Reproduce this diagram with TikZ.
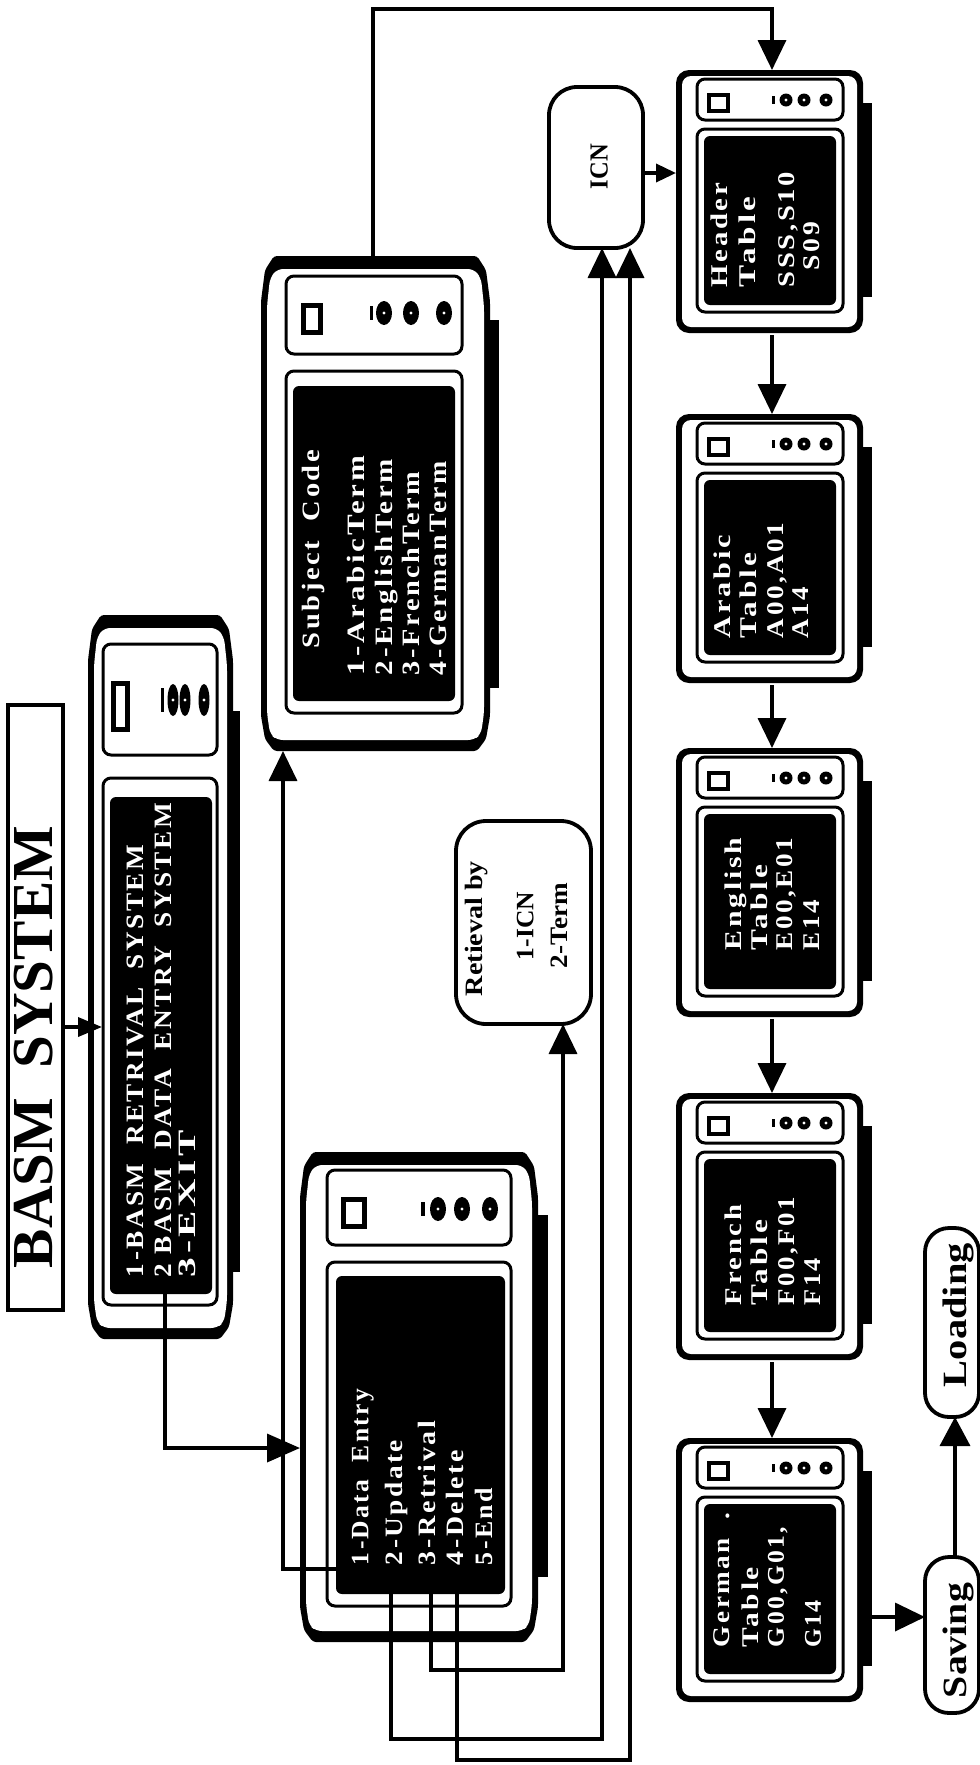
\documentclass[tikz,border=0pt]{standalone}
\usepackage{fontspec}
\usepackage{graphicx}
\setmainfont{Liberation Serif}
\newfontfamily\spaced[LetterSpace=9]{Liberation Serif}
\usetikzlibrary{arrows.meta}
\newcounter{tx}
\tikzset{
  conn/.style={line width=3.6pt,draw=black},
  bighead/.style={conn,-{Triangle[length=30pt,width=28pt]}},
  midhead/.style={conn,-{Triangle[length=24pt,width=19pt]}},
  anchorbox/.style={inner sep=0pt,outer sep=0pt},
  flowbox/.style={draw=black,line width=3.8pt,fill=white,rounded corners=24pt,inner sep=0pt,outer sep=0pt},
  labelnode/.style={rotate=90,anchor=base west,inner sep=0pt,outer sep=0pt},
}
% text line: [colour]{centre x}{start y}{end y}{font size}{text}
\newcommand\lab[6][white]{%
  \stepcounter{tx}%
  \node[labelnode,text=#1] (tx\arabic{tx}) at ({#2+0.33*#5},#3)
    {\resizebox{\dimexpr #3pt-#4pt\relax}{\height}{\spaced\fontsize{#5}{#5}\selectfont\bfseries #6}};}
\newcommand\plain{\rmfamily\bfseries}
% parts
\newcommand\dropshadow[3]{\fill[black] (#1,#2) rectangle ({#1+10},#3);}
\newcommand\panelbox[4]{\draw[line width=3pt,fill=white,rounded corners=8pt] (#1,#2) rectangle (#3,#4);}
\newcommand\screenbox[8]{%
  \draw[line width=3pt,fill=white,rounded corners=8pt] (#1,#2) rectangle (#3,#4);
  \fill[black,rounded corners=6pt] (#5,#6) rectangle (#7,#8);}
\newcommand\squarebox[5]{\draw[line width=#5pt,fill=white] (#1,#2) rectangle (#3,#4);}
\newcommand\knob[4]{%
  \fill[black] (#1,#2) ellipse [x radius=#3,y radius=#4];
  \fill[white] (#1,#2) circle [radius=1.6];}
\newcommand\holder[5]{%
  \node[anchorbox,minimum width={#4-#2},minimum height={#5-#3}] (#1) at ({(#2+#4)/2},{(#3+#5)/2}) {};}
\newcommand\smalldev[3]{%
  \pgfmathsetmacro\Tp{#2}\pgfmathsetmacro\Bt{#3}%
  \dropshadow{862}{\Tp+33}{\Bt-36}
  \fill[black,rounded corners=13pt] (676,\Tp) rectangle (863,\Bt);
  \fill[white,rounded corners=9pt] (682,\Tp+6) rectangle (857,\Bt-6);
  \panelbox{697}{\Tp+9}{843}{\Tp+50}
  \screenbox{697}{\Tp+59}{843}{\Bt-21}{704}{\Tp+66}{836}{\Bt-28}
  \squarebox{709}{\Tp+25}{728}{\Tp+41}{3.5}
  \fill[black] (771.5,\Tp+26) rectangle (775,\Tp+34);
  \knob{786}{\Tp+30}{6.5}{6.5}
  \knob{804}{\Tp+30}{6.5}{6.5}
  \knob{826}{\Tp+30}{6.5}{6.5}
  \holder{#1}{676}{#2}{863}{#3}}
\newcommand\bigbody[4]{%
  \fill[black,rounded corners=3pt] ({#1+13},#2) -- ({#3-13},#2) -- ({#3-4},{#2+14}) -- (#3,{#2+45}) -- (#3,{#4-35})
     -- ({#3-4},{#4-12}) -- ({#3-13},#4) -- ({#1+13},#4) -- ({#1+4},{#4-12}) -- (#1,{#4-35}) -- (#1,{#2+45}) -- ({#1+4},{#2+14}) -- cycle;
  \fill[white,rounded corners=6pt] ({#1+16},{#2+13}) -- ({#3-16},{#2+13}) -- ({#3-9},{#2+22}) -- ({#3-6},{#2+50}) -- ({#3-6},{#4-38})
     -- ({#3-9},{#4-17}) -- ({#3-16},{#4-11}) -- ({#1+16},{#4-11}) -- ({#1+9},{#4-17}) -- ({#1+6},{#4-38}) -- ({#1+6},{#2+50}) -- ({#1+9},{#2+22}) -- cycle;}
\begin{document}
\begin{tikzpicture}[x=1pt,y=-1pt,line join=miter]
\useasboundingbox (0,0) rectangle (980,1765);
\fill[white] (0,0) rectangle (980,1765);

% title
\node[draw=black,line width=3.5pt,fill=white,inner sep=0pt,outer sep=0pt,minimum width=55pt,minimum height=605pt] (title) at (35.5,1007.5) {};
\lab[black]{33}{1268}{826}{58}{\plain BASM\ \ SYSTEM}

% BASM device
\dropshadow{230}{711}{1272}
\bigbody{88}{615}{233}{1339}
\panelbox{103}{644}{217}{755}
\screenbox{103}{778}{217}{1305}{110}{797}{212}{1294}
\squarebox{113}{683}{127}{729}{5}
\fill[black] (161,688) rectangle (164,712);
\knob{173}{700}{5.5}{16}
\knob{185}{700}{5.5}{16}
\knob{204}{700}{5.5}{16}
\holder{basm}{88}{615}{233}{1339}
\lab{135}{1277}{845}{25}{1-BASM\ \ RETRIVAL\ \ SYSTEM}
\lab{163}{1277}{803}{25}{2 BASM\ \ DATA\ \ ENTRY\ \ SYSTEM}
\lab{187}{1277}{1130}{25}{3-EXIT}

% Data entry device
\dropshadow{538}{1215}{1577}
\bigbody{300}{1152}{538}{1642}
\panelbox{327}{1170}{511}{1245}
\screenbox{327}{1262}{511}{1606}{336}{1276}{505}{1594}
\squarebox{343}{1199}{364}{1226}{5}
\fill[black] (421,1202) rectangle (425,1216);
\knob{438}{1209}{8}{12}
\knob{462}{1209}{8}{12}
\knob{490}{1209}{8}{12}
\holder{entry}{300}{1152}{538}{1642}
\lab{360}{1565}{1389}{25}{1-Data\ \ Entry}
\lab{394}{1565}{1440}{25}{2-Update}
\lab{427}{1565}{1421}{25}{3-Retrival}
\lab{455}{1565}{1450}{25}{4-Delete}
\lab{484}{1565}{1488}{25}{5-End}

% Subject device
\dropshadow{489}{320}{688}
\bigbody{261}{256}{490}{751}
\panelbox{286}{276}{462}{354}
\screenbox{286}{371}{462}{713}{293}{386}{455}{701}
\squarebox{303}{305}{320}{332}{5}
\fill[black] (370,306) rectangle (373,320);
\knob{384}{313}{8}{12}
\knob{411}{313}{8}{12}
\knob{444}{313}{8}{12}
\holder{subject}{261}{256}{490}{751}
\lab{311}{648}{450}{25}{Subject\ \ Code}
\lab{356}{675}{456}{25}{1-ArabicTerm}
\lab{384}{675}{459}{25}{2-EnglishTerm}
\lab{411}{675}{472}{25}{3-FrenchTerm}
\lab{438}{675}{461}{25}{4-GermanTerm}

% Retrieval box
\node[flowbox,rounded corners=30pt,minimum width=135pt,minimum height=203pt] (retr) at (523.5,922.5) {};
\lab[black]{474}{996}{861}{25}{\plain Retieval by}
\lab[black]{525}{960}{892}{25}{\plain 1-ICN}
\lab[black]{559}{968}{883}{25}{\plain 2-Term}

% ICN box
\node[flowbox,rounded corners=28pt,minimum width=94pt,minimum height=161pt] (icn) at (596,167.5) {};
\lab[black]{599}{189}{144}{26}{\plain ICN}

% Table devices
\smalldev{header}{70}{333}
\lab{720}{287}{183}{24}{Header}
\lab{748}{287}{197}{24}{Table}
\lab{787}{287}{172}{24}{SSS,S10}
\lab{812}{270}{222}{24}{S09}

\smalldev{arabic}{414}{683}
\lab{723}{638}{535}{24}{Arabic}
\lab{749}{638}{553}{24}{Table}
\lab{776}{638}{523}{24}{A00,A01}
\lab{801}{638}{587}{24}{A14}

\smalldev{english}{748}{1017}
\lab{734}{950}{838}{24}{English}
\lab{760}{950}{865}{24}{Table}
\lab{785}{950}{838}{24}{E00,E01}
\lab{812}{950}{900}{24}{E14}

\smalldev{french}{1093}{1360}
\lab{734}{1305}{1205}{24}{French}
\lab{760}{1305}{1220}{24}{Table}
\lab{787}{1305}{1197}{24}{F00,F01}
\lab{813}{1305}{1258}{24}{F14}

\smalldev{german}{1438}{1702}
\lab{722}{1647}{1513}{24}{German\ \ .}
\lab{751}{1647}{1567}{24}{Table}
\lab{776}{1647}{1527}{24}{G00,G01,}
\lab{813}{1647}{1600}{24}{G14}

% Saving and Loading
\node[flowbox,minimum width=54pt,minimum height=156pt] (saving) at (952,1635) {};
\lab[black]{955.5}{1698}{1583}{34}{\plain Saving}
\node[flowbox,minimum width=54pt,minimum height=189pt] (loading) at (952,1322.5) {};
\lab[black]{955.5}{1387}{1243}{34}{\plain Loading}

% connectors
\coordinate (optBasm) at (165,1294);
\coordinate (optData) at (336,1569);
\coordinate (optUpdate) at (391,1594);
\coordinate (optRetr) at (431,1594);
\coordinate (optDelete) at (457,1594);

\draw[midhead] (title.east |- 0,1027) -- (102,1027);
\draw[bighead,-{Triangle[length=33pt,width=28pt]}] (optBasm) |- (entry.west |- 0,1448);
\draw[bighead] (optData) -| (subject.south -| 283,0);
\draw[bighead] (optRetr) |- (563,1670) -- (retr.south -| 563,0);
\draw[bighead] (optUpdate) |- (602,1739) -- (icn.south -| 602,0);
\draw[bighead] (optDelete) |- (630,1760) -- (icn.south -| 630,0);
\draw[bighead] (subject.north -| 373,0) |- (772,9) -- (header.north -| 772,0);
\draw[midhead,-{Triangle[length=20pt,width=18pt]}] (icn.east |- 0,173) -- (header.west |- 0,173);
\draw[bighead] ([yshift=-2pt]header.south -| 772,0) -- (arabic.north -| 772,0);
\draw[bighead] ([yshift=-2pt]arabic.south -| 772,0) -- (english.north -| 772,0);
\draw[bighead] ([yshift=-2pt]english.south -| 772,0) -- (french.north -| 772,0);
\draw[bighead] ([yshift=-2pt]french.south -| 772,0) -- (german.north -| 772,0);
\draw[bighead] (872,1617) -- (saving.west |- 0,1617);
\draw[bighead,-{Triangle[length=29pt,width=30pt]}] (saving.north -| 955,0) -- (loading.south -| 955,0);
\end{tikzpicture}
\end{document}
